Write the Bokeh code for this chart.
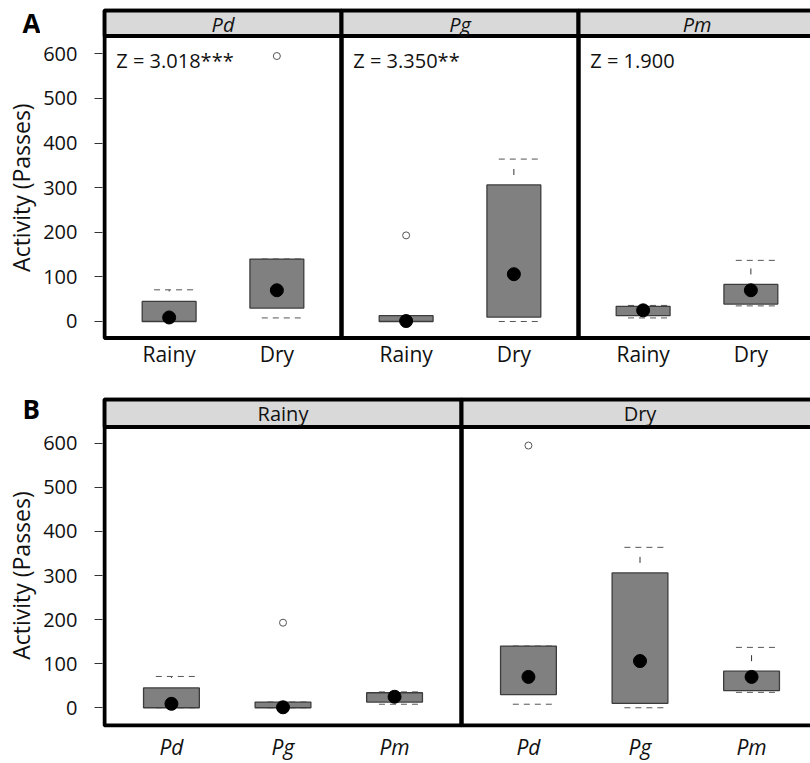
import math
from bokeh.plotting import figure
from bokeh.models import ColumnDataSource, Range1d, FixedTicker
from bokeh.layouts import column, row
from bokeh.embed import file_html
from bokeh.resources import INLINE
from bokeh.core.properties import value

# ---------------- data ----------------
species = ["Pd", "Pg", "Pm"]
seasons = ["Rainy", "Dry"]

box_species = ["Pd", "Pd", "Pg", "Pg", "Pm", "Pm"]
box_season = ["Rainy", "Dry", "Rainy", "Dry", "Rainy", "Dry"]
whisker_low = [0, 8, 0, 0, 8, 35]
q1 = [0, 30, 0, 10, 13, 39]
median = [9, 70, 1, 106, 25, 70]
q3 = [45, 140, 13, 306, 34, 83]
whisker_high = [71, 140, 13, 364, 36, 137]

outlier_species = ["Pd", "Pg"]
outlier_season = ["Dry", "Rainy"]
outlier_value = [595, 193]

z_labels = ["Z = 3.018***", "Z = 3.350**", "Z = 1.900"]
y_ticks = [0, 100, 200, 300, 400, 500, 600]
y_title = "Activity (Passes)"

FONT = "Open Sans"
LEFT_W = 40


def build_row(panels, cats, panel_of, cat_of, out_panel, out_cat, letter,
              italic_strip, italic_ticks, px_per_unit, fig_h, border_top, border_bottom,
              yr, plot_bottom, strip_bottom, strip_top, strip_text_y, letter_y,
              z_texts, tick_standoff):
    n = len(cats)
    pw = n * 10 + 2                     # panel width in x units

    def xpos(p, c):
        return panels.index(p) * pw + 6 + 10 * cats.index(c)

    y_range = Range1d(*yr)
    p = figure(width=810 - LEFT_W, height=fig_h, output_backend="svg", toolbar_location=None,
               x_range=Range1d(-2 / px_per_unit, 706 / px_per_unit),
               y_range=y_range,
               min_border_left=102 - LEFT_W, min_border_right=0,
               min_border_top=border_top, min_border_bottom=border_bottom)
    p.outline_line_color = None
    p.grid.visible = False

    xs = [xpos(a, b) for a, b in zip(panel_of, cat_of)]
    src = ColumnDataSource(dict(x=xs, lo=whisker_low, q1=q1, med=median, q3=q3, hi=whisker_high,
                                left=[x - 2.5 for x in xs], right=[x + 2.5 for x in xs],
                                s0=[x - 1.4 for x in xs], s1=[x + 2.4 for x in xs]))

    # whiskers (dashed)
    p.segment(x0="x", y0="q3", x1="x", y1="hi", source=src, line_color="#333333",
              line_width=1, line_dash="6 12", line_dash_offset=8)
    p.segment(x0="x", y0="q1", x1="x", y1="lo", source=src, line_color="#333333",
              line_width=1, line_dash="6 12", line_dash_offset=8)
    # staples (dashed)
    p.segment(x0="s0", y0="hi", x1="s1", y1="hi", source=src, line_color="#555555",
              line_width=1, line_dash="6 5")
    p.segment(x0="s0", y0="lo", x1="s1", y1="lo", source=src, line_color="#555555",
              line_width=1, line_dash="6 5")
    # boxes
    p.quad(left="left", right="right", bottom="q1", top="q3", source=src,
           fill_color="#808080", line_color="#3c3c3c", line_width=1.3)
    # medians
    p.scatter(x="x", y="med", source=src, size=13, color="black")
    # outliers
    oxs = [xpos(a, b) for a, b in zip(out_panel, out_cat)]
    p.scatter(x=oxs, y=outlier_value, size=7, fill_color="white",
              line_color="#555555", line_width=1)

    # panel frames and strips
    lefts = [i * pw for i in range(len(panels))]
    rights = [(i + 1) * pw for i in range(len(panels))]
    p.quad(left=lefts, right=rights, bottom=plot_bottom, top=strip_top,
           fill_color=None, line_color="black", line_width=4)
    p.quad(left=lefts, right=rights, bottom=strip_bottom, top=strip_top,
           fill_color="#d9d9d9", line_color="black", line_width=4)
    p.text(x=[(l + r) / 2 for l, r in zip(lefts, rights)], y=[strip_text_y] * len(panels),
           text=panels, text_align="center", text_baseline="alphabetic",
           text_font=value(FONT), text_font_size="20px",
           text_font_style="italic" if italic_strip else "normal", text_color="#111111")

    if z_texts:
        p.text(x=[l + 1.1 for l in lefts], y=[586] * len(lefts), text=z_texts,
               text_align="left", text_baseline="alphabetic",
               text_font=value(FONT), text_font_size="20px", text_color="#111111")

    # axes
    ticks = [xpos(a, b) for a in panels for b in cats]
    p.xaxis.ticker = FixedTicker(ticks=ticks)
    p.xaxis.major_label_overrides = {xpos(a, b): b for a in panels for b in cats}
    p.xaxis.axis_line_color = None
    p.xaxis.major_tick_line_color = None
    p.xaxis.minor_tick_line_color = None
    p.xaxis.major_tick_out = 0
    p.xaxis.major_label_standoff = tick_standoff
    p.xaxis.major_label_text_font = FONT
    p.xaxis.major_label_text_font_size = "21px"
    p.xaxis.major_label_text_color = "#111111"
    p.xaxis.major_label_text_font_style = "italic" if italic_ticks else "normal"

    p.yaxis.ticker = FixedTicker(ticks=y_ticks)
    p.yaxis.axis_line_color = None
    p.yaxis.major_tick_out = 8
    p.yaxis.major_tick_in = 0
    p.yaxis.major_tick_line_color = "#333333"
    p.yaxis.minor_tick_line_color = None
    p.yaxis.major_label_standoff = 17
    p.yaxis.major_label_text_font = FONT
    p.yaxis.major_label_text_font_size = "20px"
    p.yaxis.major_label_text_color = "#111111"

    # left strip: panel letter and y-axis title
    q = figure(width=LEFT_W, height=fig_h, output_backend="svg", toolbar_location=None,
               x_range=Range1d(0, LEFT_W), y_range=y_range,
               x_axis_location=None, y_axis_location=None,
               min_border_left=0, min_border_right=0,
               min_border_top=border_top, min_border_bottom=border_bottom)
    q.outline_line_color = None
    q.grid.visible = False
    q.text(x=[22], y=[letter_y], text=[letter], text_align="left", text_baseline="alphabetic",
           text_font=value(FONT), text_font_size="26px", text_font_style="bold",
           text_color="black")
    q.text(x=[20], y=[300], text=[y_title], angle=math.pi / 2, text_align="center",
           text_baseline="middle", text_font=value(FONT), text_font_size="23px",
           text_color="#111111")
    return row(q, p, spacing=0)


rowA = build_row(species, seasons, box_species, box_season, outlier_species, outlier_season,
                 "A", True, False, 237 / 22, 380, 8, 40, (-42.6, 701.5), -37, 640, 697,
                 665, 669, z_labels, -1)
rowB = build_row(seasons, species, box_season, box_species, outlier_season, outlier_species,
                 "B", False, True, 357 / 32, 383, 17, 32, (-44.8, 704.0), -40.4, 636.8, 699.5,
                 668, 678, None, 5)

layout = column(rowA, rowB, spacing=0)
open("out.html", "w").write(file_html(layout, INLINE))
